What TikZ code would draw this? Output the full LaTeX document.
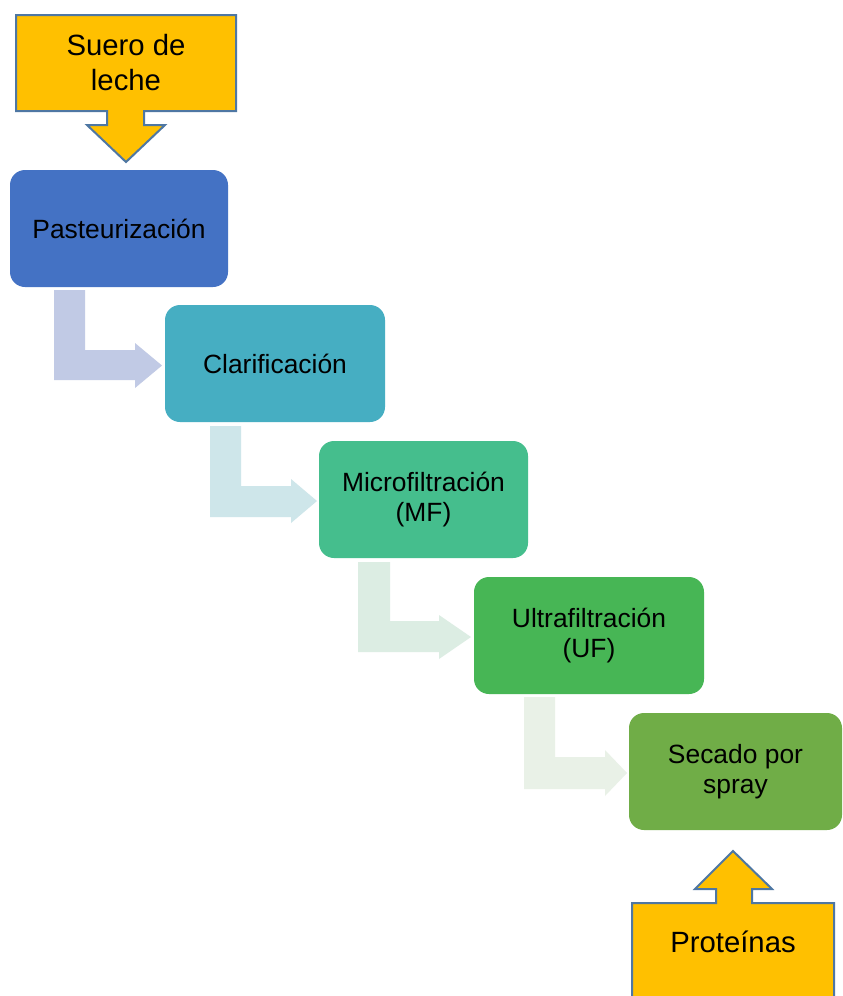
\documentclass[tikz,border=0pt]{standalone}
\usepackage{fontspec}
\setmainfont{Liberation Sans}
\begin{document}
\begin{tikzpicture}[x=1pt,y=-1pt,
  stepbox/.style={rectangle, rounded corners=15pt, inner sep=0pt, align=center,
    font=\fontsize{26.4}{30}\selectfont, text=black},
  callout/.style={fill=calloutfill, draw=calloutline, line width=2pt, line join=miter},
  calltext/.style={inner sep=0pt, align=center, font=\fontsize{29.3}{35}\selectfont, text=black}]
\definecolor{calloutfill}{HTML}{FFC000}
\definecolor{calloutline}{HTML}{4E77A3}
\definecolor{c1}{HTML}{4472C4}
\definecolor{c2}{HTML}{46AEC2}
\definecolor{c3}{HTML}{45BE8D}
\definecolor{c4}{HTML}{47B655}
\definecolor{c5}{HTML}{70AD47}
\definecolor{a1}{HTML}{C1CAE5}
\definecolor{a2}{HTML}{CEE6EA}
\definecolor{a3}{HTML}{DCEDE3}
\definecolor{a4}{HTML}{E9F1E7}
\useasboundingbox (0,0) rectangle (843,996);
\clip (0,0) rectangle (843,996);
\fill[white] (0,0) rectangle (843,996);

% elbow arrows
\fill[a1] (54,290) -- (85,290) -- (85,350) -- (135,350) -- (135,343) -- (162,365.5) -- (135,388) -- (135,380) -- (54,380) -- cycle;
\fill[a2] (210,426) -- (241,426) -- (241,486) -- (291,486) -- (291,479) -- (317,501) -- (291,523) -- (291,517) -- (210,517) -- cycle;
\fill[a3] (358,562) -- (390,562) -- (390,621) -- (439,621) -- (439,615) -- (471,637) -- (439,659) -- (439,652) -- (358,652) -- cycle;
\fill[a4] (524,697) -- (555,697) -- (555,757) -- (605,757) -- (605,750) -- (627,773) -- (605,796) -- (605,789) -- (524,789) -- cycle;

% process boxes
\node[stepbox, fill=c1, minimum width=218pt, minimum height=117pt] (b1) at (119,228.5) {Pasteurización};
\node[stepbox, fill=c2, minimum width=220pt, minimum height=117pt] (b2) at (275,363.5) {Clarificación};
\node[stepbox, fill=c3, minimum width=209pt, minimum height=117pt] (b3) at (423.5,499.5) {Microfiltración\\(MF)};
\node[stepbox, fill=c4, minimum width=230pt, minimum height=117pt] (b4) at (589,635.5) {Ultrafiltración\\(UF)};
\node[stepbox, fill=c5, minimum width=213pt, minimum height=117pt] (b5) at (735.5,771.5) {Secado por\\spray};

% callouts
\draw[callout] (16,15) -- (236,15) -- (236,111) -- (144,111) -- (144,125) -- (165,125) -- (126,162) -- (87,125) -- (107,125) -- (107,111) -- (16,111) -- cycle;
\node[calltext] (suero) at (126,63) {Suero de\\leche};
\draw[callout] (632,1010) -- (632,903) -- (716,903) -- (716,889) -- (695,889) -- (733,851) -- (772,889) -- (752,889) -- (752,903) -- (834,903) -- (834,1010);
\node[calltext] (prot) at (733,942) {Proteínas};
\end{tikzpicture}
\end{document}
